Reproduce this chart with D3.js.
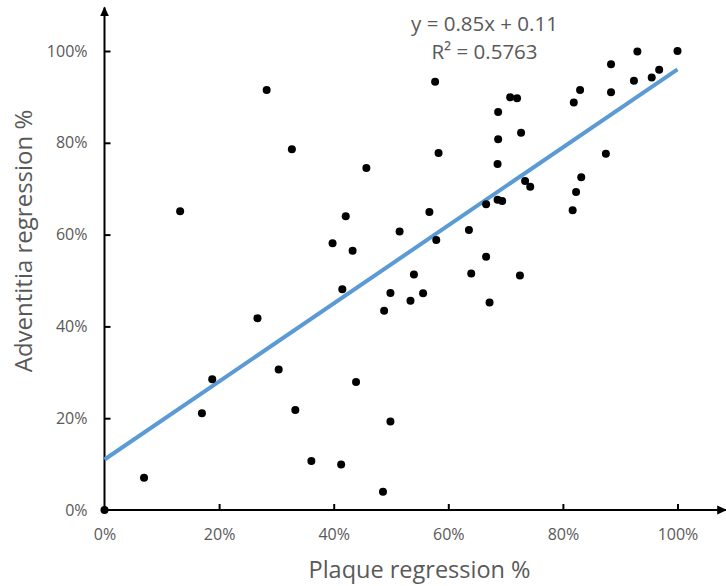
<!DOCTYPE html>
<html>
<head>
<meta charset="utf-8">
<script src="https://cdn.jsdelivr.net/npm/d3@7"></script>
<style>
  html, body { margin: 0; padding: 0; background: #fff; }
  svg { display: block; font-family: "Open Sans", sans-serif; }
</style>
</head>
<body>
<svg id="chart" width="726" height="586"></svg>
<script>
// Plaque regression (x) vs adventitia regression (y), as fractions
const plaque = [
  0.000, 0.069, 0.132, 0.170, 0.188, 0.267, 0.283, 0.304, 0.327, 0.333,
  0.361, 0.398, 0.413, 0.415, 0.421, 0.433, 0.439, 0.457, 0.486, 0.488,
  0.499, 0.499, 0.515, 0.534, 0.540, 0.556, 0.567, 0.577, 0.579, 0.583,
  0.636, 0.640, 0.666, 0.666, 0.672, 0.686, 0.686, 0.687, 0.687, 0.694,
  0.708, 0.720, 0.725, 0.727, 0.734, 0.743, 0.817, 0.819, 0.823, 0.830,
  0.832, 0.875, 0.884, 0.884, 0.924, 0.930, 0.955, 0.968, 1.000
];
const adventitia = [
  0.000, 0.070, 0.651, 0.211, 0.285, 0.418, 0.915, 0.306, 0.786, 0.218,
  0.107, 0.581, 0.099, 0.481, 0.640, 0.565, 0.279, 0.745, 0.040, 0.434,
  0.473, 0.193, 0.607, 0.456, 0.513, 0.472, 0.649, 0.933, 0.588, 0.778,
  0.610, 0.515, 0.552, 0.666, 0.452, 0.754, 0.676, 0.867, 0.808, 0.673,
  0.899, 0.897, 0.511, 0.822, 0.717, 0.704, 0.653, 0.888, 0.693, 0.915,
  0.725, 0.776, 0.971, 0.910, 0.935, 0.999, 0.942, 0.959, 1.000
];

// Linear trendline, as stated in the label
const slope = 0.85;
const intercept = 0.11;
const rSquared = 0.5763;

const tickValues = [0, 0.2, 0.4, 0.6, 0.8, 1.0];
const xTitle = "Plaque regression %";
const yTitle = "Adventitia regression %";

const svg = d3.select("#chart");
const grey = "#595959";

const x = d3.scaleLinear().domain([0, 1]).range([104.5, 677.5]);
const y = d3.scaleLinear().domain([0, 1]).range([510, 51]);
const fmt = d3.format(".0%");

// arrowhead for the axis lines
svg.append("defs").append("marker")
  .attr("id", "arrow")
  .attr("viewBox", "0 0 10 10")
  .attr("refX", 9).attr("refY", 5)
  .attr("markerUnits", "userSpaceOnUse")
  .attr("markerWidth", 10).attr("markerHeight", 10)
  .attr("orient", "auto")
  .append("path")
  .attr("d", "M0,0.5 L10,5 L0,9.5 Z")
  .attr("fill", "#000");

// axes (ticks point inward, labels outside)
const xAxis = svg.append("g")
  .attr("transform", `translate(0,${y(0)})`)
  .call(d3.axisBottom(x).tickValues(tickValues).tickFormat(fmt)
    .tickSizeInner(-6).tickSizeOuter(0).tickPadding(19));
const yAxis = svg.append("g")
  .attr("transform", `translate(${x(0)},0)`)
  .call(d3.axisLeft(y).tickValues(tickValues).tickFormat(fmt)
    .tickSizeInner(-6).tickSizeOuter(0).tickPadding(17));

[xAxis, yAxis].forEach(g => {
  g.select(".domain").remove();
  g.selectAll(".tick line").attr("stroke", "#000").attr("stroke-width", 2);
  g.selectAll(".tick text")
    .attr("fill", grey)
    .style("font-family", "'Open Sans', sans-serif")
    .style("font-size", "16px");
});
xAxis.selectAll(".tick").filter(d => d === 0).select("line").remove();
yAxis.selectAll(".tick").filter(d => d === 0).select("line").remove();

// axis lines with arrows
svg.append("line")
  .attr("x1", x(0)).attr("y1", y(0))
  .attr("x2", x(1.085)).attr("y2", y(0))
  .attr("stroke", "#000").attr("stroke-width", 2)
  .attr("marker-end", "url(#arrow)");
svg.append("line")
  .attr("x1", x(0)).attr("y1", y(0))
  .attr("x2", x(0)).attr("y2", y(1.095))
  .attr("stroke", "#000").attr("stroke-width", 2)
  .attr("marker-end", "url(#arrow)");

// trendline
const line = d3.line().x(d => x(d)).y(d => y(slope * d + intercept));
svg.append("path")
  .datum([0, 1])
  .attr("d", line)
  .attr("fill", "none")
  .attr("stroke", "#5B9BD5")
  .attr("stroke-width", 4);

// points
svg.append("g").selectAll("circle")
  .data(plaque.map((p, i) => [p, adventitia[i]]))
  .join("circle")
  .attr("cx", d => x(d[0]))
  .attr("cy", d => y(d[1]))
  .attr("r", 4)
  .attr("fill", "#000");

// trendline equation
const eq = svg.append("text")
  .attr("x", 484.5)
  .attr("text-anchor", "middle")
  .attr("fill", grey)
  .style("font-size", "20.5px");
eq.append("tspan").attr("x", 484.5).attr("y", 31)
  .text(`y = ${slope}x + ${intercept}`);
eq.append("tspan").attr("x", 484.5).attr("y", 59)
  .text(`R² = ${rSquared}`);

// axis titles
svg.append("text")
  .attr("x", 419.5).attr("y", 578)
  .attr("text-anchor", "middle")
  .attr("fill", grey)
  .style("font-size", "23.5px")
  .text(xTitle);
svg.append("text")
  .attr("transform", "translate(32,241) rotate(-90)")
  .attr("text-anchor", "middle")
  .attr("fill", grey)
  .style("font-size", "24px")
  .text(yTitle);
</script>
</body>
</html>
